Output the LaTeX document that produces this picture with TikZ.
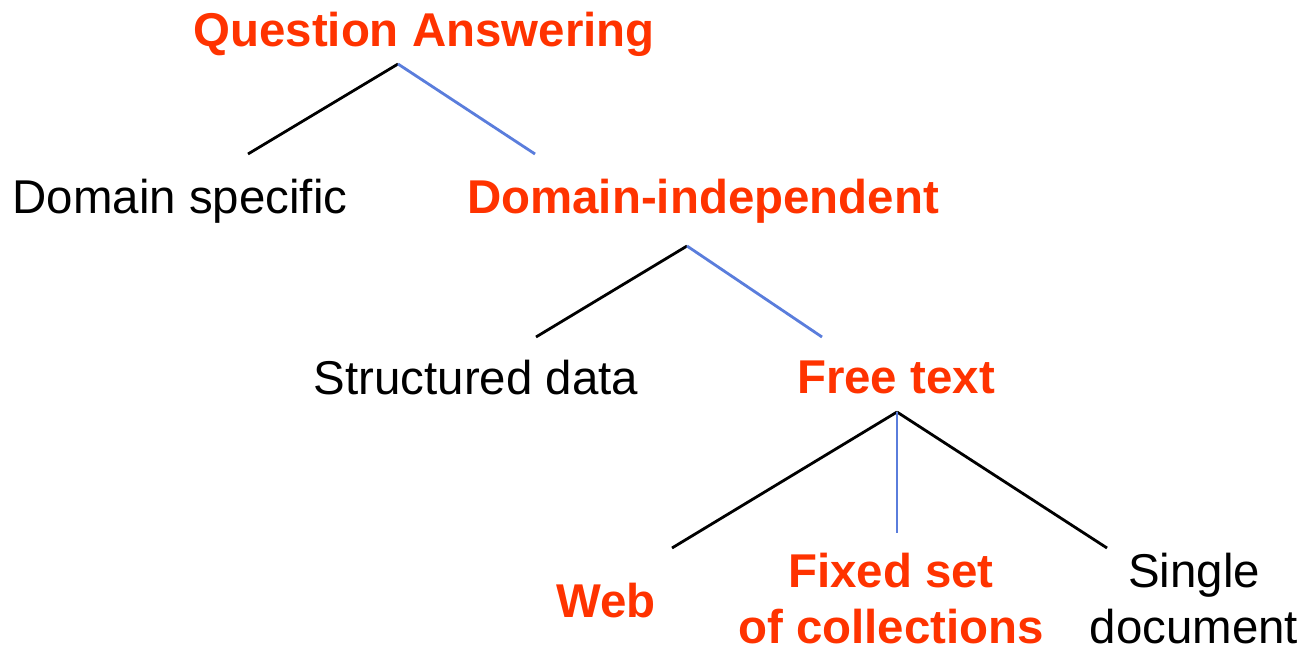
\documentclass[tikz,border=0pt]{standalone}
\usepackage{fontspec}
\setmainfont{Liberation Sans}
\usetikzlibrary{positioning}
\definecolor{qared}{RGB}{255,51,0}
\definecolor{qablue}{RGB}{90,125,220}

\begin{document}
\begin{tikzpicture}[x=0.02cm,y=-0.02cm,
  qtext/.style={font=\fontsize{27}{31.5}\selectfont, inner sep=0pt, anchor=base, align=center},
  qpick/.style={qtext, text=qared, font=\fontsize{27}{31.5}\selectfont\bfseries},
  edge/.style={line width=1.6pt},
  chosen/.style={edge, draw=qablue}]
\useasboundingbox (0,0) rectangle (1307,652);

% Labels of the tree
\node[qpick] (qa) at (424,47) {Question Answering};
\node[qtext] (dspec) at (180,213) {Domain specific};
\node[qpick] (dind) at (703,213) {Domain-independent};
\node[qtext] (sdata) at (476,394) {Structured data};
\node[qpick] (ftext) at (896,393) {Free text};
\node[qpick] (web) at (606,617) {Web};
\node[qpick] (fixed) at (891,643) {Fixed set\\of collections};
\node[qtext] (single) at (1194,643) {Single\\document};

% Fork points and branch ends
\coordinate (qa-fork) at (398,64);
\coordinate (dspec-top) at (248,154);
\coordinate (dind-top) at (535,154);
\coordinate (dind-fork) at (687,246);
\coordinate (sdata-top) at (536,337);
\coordinate (ftext-top) at (822,337);
\coordinate (ftext-fork) at (897,412);
\coordinate (web-top) at (672,548);
\coordinate (fixed-top) at (897,533);
\coordinate (single-top) at (1107,548);

% Branches
\foreach \from/\to in {qa-fork/dspec-top, dind-fork/sdata-top, ftext-fork/web-top, ftext-fork/single-top}
    \draw[edge] (\from) -- (\to);
\foreach \from/\to in {qa-fork/dind-top, dind-fork/ftext-top, ftext-fork/fixed-top}
    \draw[chosen] (\from) -- (\to);
\end{tikzpicture}
\end{document}
